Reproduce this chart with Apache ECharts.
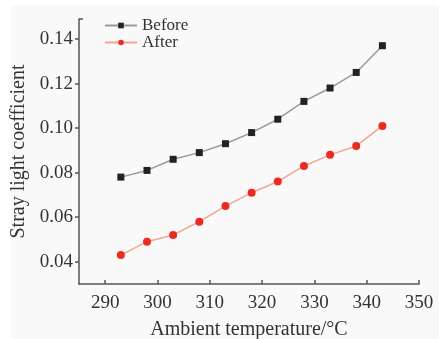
<!DOCTYPE html>
<html>
<head>
<meta charset="utf-8">
<script src="https://cdn.jsdelivr.net/npm/echarts@6/dist/echarts.min.js"></script>
<style>
  html, body { margin: 0; padding: 0; background: #ffffff; }
  #chart {
    width: 439px; height: 339px;
    background: linear-gradient(#f9f9f9, #f9f9f9) 11px 6px / 100% 100% no-repeat, #ffffff;
  }
</style>
</head>
<body>
<div id="chart"></div>
<script>
// Ambient temperature (°C) at each measurement
const temperatures = [293, 298, 303, 308, 313, 318, 323, 328, 333, 338, 343];
// Stray light coefficient before and after the correction
const beforeValues = [0.078, 0.081, 0.086, 0.089, 0.093, 0.098, 0.104, 0.112, 0.118, 0.125, 0.137];
const afterValues  = [0.043, 0.049, 0.052, 0.058, 0.065, 0.071, 0.076, 0.083, 0.088, 0.092, 0.101];
// Tick labels
const xTicks = [290, 300, 310, 320, 330, 340, 350];
const yTicks = [0.04, 0.06, 0.08, 0.10, 0.12, 0.14];

const serif = '"Liberation Serif", "Times New Roman", serif';
const axisColor = '#555555';
const textColor = '#333333';
const yMin = 0.03, yMax = 0.149;

const chart = echarts.init(document.getElementById('chart'), null, { renderer: 'canvas' });

chart.setOption({
  animation: false,
  backgroundColor: 'transparent',
  grid: { left: 79, right: 20, top: 19, bottom: 55, containLabel: false, outerBoundsMode: 'none' },
  legend: {
    orient: 'vertical',
    left: 104,
    top: 17,
    padding: 0,
    itemWidth: 32,
    itemHeight: 7,
    itemGap: 0,
    textStyle: { fontFamily: serif, fontSize: 17, lineHeight: 17, color: textColor, padding: [0, 0, 0, 0] },
    data: ['Before', 'After']
  },
  xAxis: {
    type: 'value',
    min: 285,
    max: 350,
    name: 'Ambient temperature/°C',
    nameLocation: 'middle',
    nameGap: 36,
    nameTextStyle: { fontFamily: serif, fontSize: 20, color: textColor },
    splitLine: { show: false },
    axisLine: { show: true, onZero: false, lineStyle: { color: axisColor, width: 1.5 } },
    axisTick: { show: true, inside: true, length: 4, customValues: xTicks, lineStyle: { color: axisColor, width: 1.5 } },
    axisLabel: {
      customValues: xTicks,
      margin: 10,
      fontFamily: serif, fontSize: 19, color: textColor
    }
  },
  yAxis: [{
    type: 'value',
    min: yMin,
    max: yMax,
    name: 'Stray light coefficient',
    nameLocation: 'middle',
    nameGap: 50,
    nameTextStyle: { fontFamily: serif, fontSize: 20, color: textColor },
    splitLine: { show: false },
    axisLine: { show: true, onZero: false, lineStyle: { color: axisColor, width: 1.5 } },
    axisTick: { show: true, length: 4, customValues: yTicks, lineStyle: { color: axisColor, width: 1.5 } },
    axisLabel: {
      customValues: yTicks,
      margin: 6,
      formatter: v => v.toFixed(2),
      fontFamily: serif, fontSize: 19, color: textColor
    }
  }, {
    // closing stub at the top end of the value axis
    type: 'value',
    position: 'left',
    min: yMin,
    max: yMax,
    splitLine: { show: false },
    axisLine: { show: false },
    axisLabel: { show: false },
    axisTick: { show: true, inside: true, length: 4, customValues: [yMax], lineStyle: { color: axisColor, width: 1.5 } }
  }],
  series: [{
    name: 'Before',
    type: 'line',
    data: temperatures.map((t, i) => [t, beforeValues[i]]),
    symbol: 'rect',
    symbolSize: 7,
    itemStyle: { color: '#222222' },
    lineStyle: { color: '#9a9a9a', width: 1.5 },
    z: 3
  }, {
    name: 'After',
    type: 'line',
    data: temperatures.map((t, i) => [t, afterValues[i]]),
    symbol: 'circle',
    symbolSize: 8,
    itemStyle: { color: '#ec2a20' },
    lineStyle: { color: '#f2a593', width: 1.5 },
    z: 2
  }]
});
</script>
</body>
</html>
